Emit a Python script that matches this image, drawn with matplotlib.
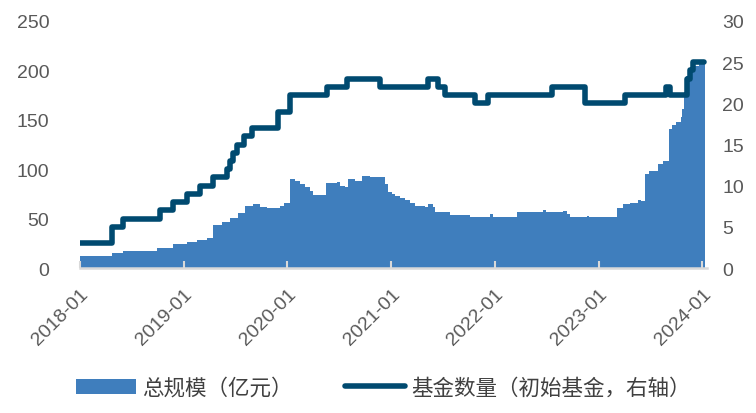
import matplotlib
matplotlib.use("Agg")
import matplotlib.pyplot as plt
import pandas as pd
from matplotlib.lines import Line2D
from matplotlib.patches import Patch

plt.rcParams['font.family'] = ['Noto Sans CJK SC', 'DejaVu Sans']

# 总规模（亿元）: change points (date, value)
size_dates = ['2018-01-01', '2018-04-23', '2018-06-01', '2018-09-29', '2018-11-25',
              '2019-01-13', '2019-02-17', '2019-03-24', '2019-04-14', '2019-05-16',
              '2019-06-13', '2019-07-12', '2019-08-05', '2019-09-02', '2019-09-27',
              '2019-10-22', '2019-12-06', '2019-12-22', '2020-01-10', '2020-01-28',
              '2020-02-14', '2020-03-02', '2020-03-20', '2020-03-30', '2020-05-15',
              '2020-06-23', '2020-07-04', '2020-07-21', '2020-08-01', '2020-08-26',
              '2020-09-19', '2020-10-17', '2020-12-10', '2020-12-20', '2021-01-02',
              '2021-01-14', '2021-02-01', '2021-02-18', '2021-03-08', '2021-03-25',
              '2021-04-29', '2021-05-10', '2021-05-28', '2021-06-03', '2021-07-26',
              '2021-10-05', '2021-12-14', '2021-12-25', '2022-03-19', '2022-06-19',
              '2022-06-30', '2022-08-28', '2022-09-11', '2022-09-22', '2022-11-20',
              '2022-11-28', '2023-03-06', '2023-03-28', '2023-04-21', '2023-05-20',
              '2023-06-01', '2023-06-13', '2023-06-28', '2023-07-29', '2023-08-15',
              '2023-09-06', '2023-09-16', '2023-09-30', '2023-10-17', '2023-10-22',
              '2023-10-28', '2023-11-04', '2023-11-18', '2023-12-02', '2023-12-20',
              '2024-01-10']
size_values = [12, 15, 17, 20, 24,
               26, 28, 30, 44, 47,
               51, 56, 63, 65, 62,
               61, 63, 66, 90, 88,
               85, 82, 78, 74, 86,
               87, 83, 82, 90, 88,
               93, 92, 85, 77, 75,
               73, 71, 69, 66, 63,
               62, 65, 62, 57, 54,
               52, 55, 52, 57, 59,
               57, 58, 55, 52, 53,
               52, 61, 65, 66, 69,
               68, 95, 98, 105, 108,
               141, 145, 148, 153, 161,
               178, 194, 199, 204, 206,
               206]

# 基金数量（初始基金，右轴）: change points (date, value)
count_dates = ['2018-01-01', '2018-04-23', '2018-06-01', '2018-10-10', '2018-11-25',
               '2019-01-13', '2019-02-28', '2019-04-14', '2019-06-03', '2019-06-13',
               '2019-06-24', '2019-07-08', '2019-08-01', '2019-08-29', '2019-11-28',
               '2020-01-10', '2020-05-20', '2020-07-28', '2020-11-22', '2021-05-10',
               '2021-06-14', '2021-07-09', '2021-10-22', '2021-12-07', '2022-07-21',
               '2022-11-14', '2023-04-04', '2023-08-26', '2023-09-09', '2023-11-08',
               '2023-11-19', '2023-11-29', '2024-01-08']
count_values = [3, 5, 6, 7, 8,
                9, 10, 11, 12, 13,
                14, 15, 16, 17, 19,
                21, 22, 23, 22, 23,
                22, 21, 20, 21, 22,
                20, 21, 22, 21, 23,
                24, 25, 25]

tick_labels = ['2018-01', '2019-01', '2020-01', '2021-01', '2022-01', '2023-01', '2024-01']

area_color = '#3F7EBD'
line_color = '#004A70'
text_color = '#595959'

sd = pd.to_datetime(size_dates)
cd = pd.to_datetime(count_dates)

fig = plt.figure(figsize=(7.56, 4.14), dpi=100)
ax = fig.add_axes([80/756, 1-269/414, (707-80)/756, (269-22)/414])
ax2 = ax.twinx()

ax.fill_between(sd, size_values, 0, step='post', color=area_color, linewidth=0)
ax2.step(cd, count_values, where='post', color=line_color, linewidth=4.0,
         solid_joinstyle='round', solid_capstyle='round')

ax.set_xlim(pd.Timestamp('2018-01-01'), pd.Timestamp('2024-01-18'))
ax.set_ylim(0, 250)
ax2.set_ylim(0, 30)
ax.set_yticks(range(0, 251, 50))
ax2.set_yticks(range(0, 31, 5))

ticks = pd.to_datetime([t + '-01' for t in tick_labels])
ax.set_xticks(ticks)
ax.set_xticklabels(tick_labels, rotation=45, ha='right', rotation_mode='anchor',
                   color=text_color, fontsize=14, family=['Liberation Sans'])

for a in (ax, ax2):
    for s in ('top', 'left', 'right', 'bottom'):
        a.spines[s].set_visible(False)
ax.spines['bottom'].set_visible(True)
ax.spines['bottom'].set_color('#D9D9D9')
ax.spines['bottom'].set_linewidth(1.8)

ax.tick_params(axis='x', direction='in', length=5, width=1.5, color='#D9D9D9', pad=12)
ax.tick_params(axis='y', length=0, labelsize=14, labelcolor=text_color, pad=22)
ax2.tick_params(axis='y', length=0, labelsize=14, labelcolor=text_color, pad=11)
for lab in ax.get_yticklabels() + ax2.get_yticklabels():
    lab.set_family(['Liberation Sans'])

ax.set_zorder(0)
ax2.set_zorder(1)
ax.patch.set_visible(False)

handles = [Patch(facecolor=area_color, edgecolor='none'),
           Line2D([0], [0], color=line_color, linewidth=4.0, solid_capstyle='round')]
labels = ['总规模（亿元）', '基金数量（初始基金，右轴）']
fig.legend(handles, labels, loc='center', bbox_to_anchor=(0.507, 1-389/414), ncol=2,
           frameon=False, fontsize=15.5, handlelength=2.8, handleheight=0.7,
           columnspacing=2.4, handletextpad=0.3, labelcolor='#404040')

fig.savefig('out.png', dpi=100)
